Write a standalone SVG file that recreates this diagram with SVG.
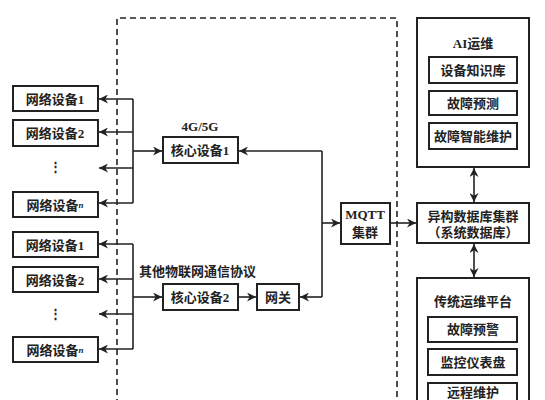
<svg xmlns="http://www.w3.org/2000/svg" width="545" height="400" viewBox="0 0 545 400">
<defs>
<style>
.box{fill:#fff;stroke:#222;stroke-width:2}
.t{font-family:"Liberation Serif","Noto Sans CJK SC",serif;font-weight:bold;font-size:13px;fill:#222;text-anchor:middle;dominant-baseline:central}
.c{fill:none;stroke:#222;stroke-width:1.6}
.dash{fill:none;stroke:#222;stroke-width:1.6;stroke-dasharray:6 4}
</style>
<marker id="ah" viewBox="0 0 10 10" refX="10" refY="5" markerWidth="9" markerHeight="9" markerUnits="userSpaceOnUse" orient="auto-start-reverse">
<path d="M0,0 L10,5 L0,10 L3,5 Z" fill="#222"/>
</marker>
</defs>
<rect width="545" height="400" fill="#fff"/>
<path class="dash" d="M117,405 V18 H397 V405"/>

<g id="nd1a"><rect class="box" x="13" y="86" width="85" height="25"/><text class="t" x="55" y="99">网络设备1</text></g>
<g id="nd2a"><rect class="box" x="13" y="120" width="85" height="26"/><text class="t" x="55" y="133">网络设备2</text></g>
<g id="dotsa"><text class="t" x="55" y="166">⋮</text></g>
<g id="ndna"><rect class="box" x="13" y="192" width="85" height="25"/><text class="t" x="55" y="205">网络设备<tspan font-size="9" font-style="italic">n</tspan></text></g>

<g id="nd1b"><rect class="box" x="13" y="232" width="85" height="25"/><text class="t" x="55" y="245">网络设备1</text></g>
<g id="nd2b"><rect class="box" x="13" y="267" width="85" height="25"/><text class="t" x="55" y="280">网络设备2</text></g>
<g id="dotsb"><text class="t" x="55" y="313">⋮</text></g>
<g id="ndnb"><rect class="box" x="13" y="337" width="85" height="25"/><text class="t" x="55" y="350">网络设备<tspan font-size="9" font-style="italic">n</tspan></text></g>

<g id="core1"><text class="t" x="200" y="126" font-size="11">4G/5G</text><rect class="box" x="163" y="137" width="75" height="26"/><text class="t" x="200" y="150">核心设备1</text></g>
<g id="proto"><text class="t" x="139" y="271" style="text-anchor:start">其他物联网通信协议</text></g>
<g id="core2"><rect class="box" x="163" y="284" width="75" height="26"/><text class="t" x="200" y="297">核心设备2</text></g>
<g id="gw"><rect class="box" x="257" y="284" width="42" height="26"/><text class="t" x="278" y="297">网关</text></g>
<g id="mqtt"><rect class="box" x="341" y="203" width="49" height="41"/><text class="t" x="365" y="214">MQTT</text><text class="t" x="365" y="232">集群</text></g>

<g id="db"><rect class="box" x="417" y="203" width="112" height="40"/><text class="t" x="473" y="216">异构数据库集群</text><text class="t" x="473" y="232">（系统数据库）</text></g>

<g id="ai"><rect class="box" x="417" y="18" width="112" height="149"/><text class="t" x="473" y="43">AI运维</text>
<rect class="box" x="429" y="57" width="88" height="26"/><text class="t" x="473" y="70">设备知识库</text>
<rect class="box" x="429" y="91" width="88" height="24"/><text class="t" x="473" y="103">故障预测</text>
<rect class="box" x="429" y="123" width="88" height="26"/><text class="t" x="473" y="136">故障智能维护</text></g>

<g id="trad"><rect class="box" x="417" y="278" width="112" height="130"/><text class="t" x="473" y="301">传统运维平台</text>
<rect class="box" x="428" y="317" width="89" height="25"/><text class="t" x="473" y="329">故障预警</text>
<rect class="box" x="428" y="349" width="89" height="26"/><text class="t" x="473" y="362">监控仪表盘</text>
<rect class="box" x="428" y="383" width="89" height="26"/><text class="t" x="473" y="392">远程维护</text></g>

<g id="connectors">
<path class="c" d="M133,99 V203"/>
<path class="c" d="M133,99 H99" marker-end="url(#ah)"/>
<path class="c" d="M133,132 H99" marker-end="url(#ah)"/>
<path class="c" d="M133,168 H99" marker-end="url(#ah)"/>
<path class="c" d="M133,203 H99" marker-end="url(#ah)"/>
<path class="c" d="M133,151 H162" marker-end="url(#ah)"/>

<path class="c" d="M133,244 V349"/>
<path class="c" d="M133,244 H99" marker-end="url(#ah)"/>
<path class="c" d="M133,279 H99" marker-end="url(#ah)"/>
<path class="c" d="M133,314 H99" marker-end="url(#ah)"/>
<path class="c" d="M133,349 H99" marker-end="url(#ah)"/>
<path class="c" d="M133,297 H162" marker-end="url(#ah)"/>

<path class="c" d="M238,297 H256" marker-end="url(#ah)"/>
<path class="c" d="M322,151 V297"/>
<path class="c" d="M322,151 H239" marker-end="url(#ah)"/>
<path class="c" d="M322,297 H300" marker-end="url(#ah)"/>
<path class="c" d="M322,223 H340" marker-end="url(#ah)"/>
<path class="c" d="M390,223 H416" marker-end="url(#ah)"/>
<path class="c" d="M474,168 V202" marker-start="url(#ah)" marker-end="url(#ah)"/>
<path class="c" d="M474,244 V277" marker-start="url(#ah)" marker-end="url(#ah)"/>
</g>
</svg>
